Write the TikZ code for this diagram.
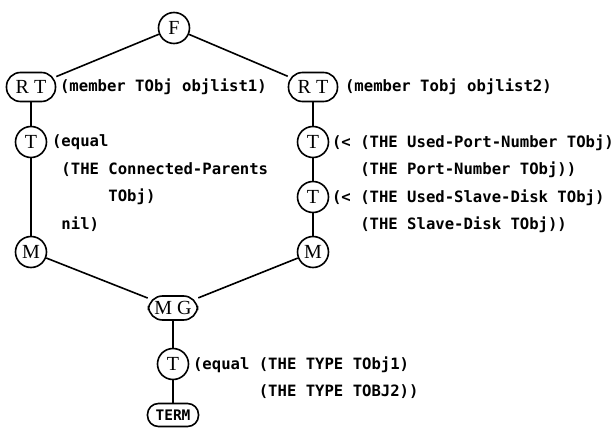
\documentclass[tikz,border=0pt]{standalone}
\usepackage{fontspec}
\setmainfont{Liberation Serif}
\newfontfamily\dotfont{DejaVu Sans Mono}[BoldFont={DejaVu Sans Mono Bold}]
\newcommand{\codefont}{\dotfont\bfseries\fontsize{15.6}{27.5}\selectfont}
\newcommand{\smallcodefont}{\dotfont\bfseries\fontsize{14.5}{16}\selectfont}
\newcommand{\letterfont}{\rmfamily\fontsize{20}{22}\selectfont}
\usetikzlibrary{positioning}

\begin{document}
\begin{tikzpicture}[x=1pt, y=1pt, node distance=55pt,
  main/.style = {draw, circle, line width=1.6pt, minimum size=31pt, inner sep=0pt, font=\letterfont},
  pill/.style = {draw, rectangle, rounded corners=14pt, line width=1.6pt, minimum width=49pt, minimum height=29pt, inner sep=0pt, font=\letterfont},
  code/.style = {inner sep=0pt, align=left, font=\codefont},
  every path/.style = {line width=1.6pt}]
\useasboundingbox (0,0) rectangle (615,-430);

\node[main] (f) at (174,-28) {F};
\node[pill] (rt1) at (31,-87) {R~T};
\node[pill] (rt2) at (313,-87) {R~T};

\node[main] (t1) [below of=rt1] {T};
\node[main] (m1) [below of=t1, node distance=110pt] {M};

\node[main] (t2) [below of=rt2] {T};
\node[main] (t3) [below of=t2] {T};
\node[main] (m2) [below of=t3] {M};

\node[pill, minimum height=24pt] (mg) at (173,-308) {M~G};
\node[main] (t4) [below of=mg, node distance=56pt] {T};
\node[pill, minimum width=51pt, minimum height=23pt, rounded corners=11pt, font=\smallcodefont] (term) [below of=t4, node distance=51pt] {TERM};

% tests beside the nodes
\node[code, right=3pt of rt1] (c1) {(member TObj objlist1)};
\node[code, right=6pt of rt2] (c2) {(member Tobj objlist2)};
\node[code, anchor=north west, xshift=4pt, yshift=8pt] (c3) at (t1.east)
  {(equal\\ \hphantom{(}(THE Connected-Parents\\ \hphantom{(equal}TObj)\\ \hphantom{(}nil)};
\node[code, anchor=north west, xshift=2pt, yshift=8pt] (c4) at (t2.east)
  {(< (THE Used-Port-Number TObj)\\ \hphantom{(< }(THE Port-Number TObj))};
\node[code, anchor=north west, xshift=2pt, yshift=8pt] (c5) at (t3.east)
  {(< (THE Used-Slave-Disk TObj)\\ \hphantom{(< }(THE Slave-Disk TObj))};
\node[code, anchor=north west, xshift=3pt, yshift=8pt] (c6) at (t4.east)
  {(equal (THE TYPE TObj1)\\ \hphantom{(equal }(THE TYPE TOBJ2))};

\draw (f) -- (rt1);
\draw (f) -- (rt2);
\draw (rt1) -- (t1);
\draw (t1) -- (m1);
\draw (rt2) -- (t2);
\draw (t2) -- (t3);
\draw (t3) -- (m2);
\draw (m1) -- (mg);
\draw (m2) -- (mg);
\draw (mg) -- (t4);
\draw (t4) -- (term);

\end{tikzpicture}
\end{document}
